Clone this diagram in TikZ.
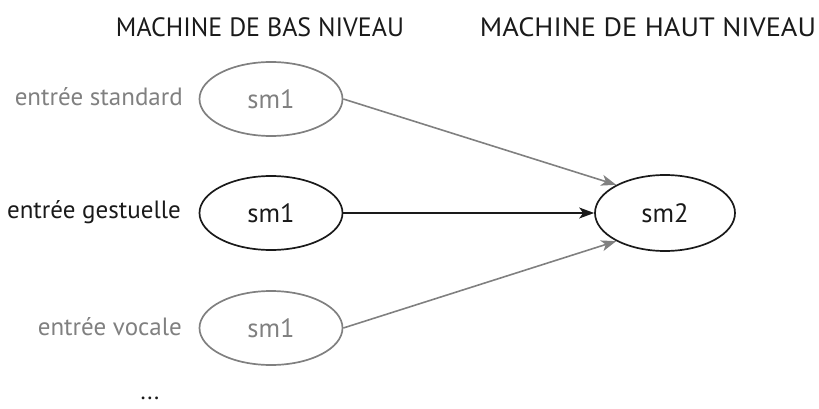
\documentclass[tikz,border=0pt]{standalone}
\usepackage{fontspec}
\usepackage{graphicx}
\setmainfont{PT Sans}
\usetikzlibrary{shapes.geometric,arrows.meta}
\definecolor{gr}{HTML}{808080}
\definecolor{bk}{HTML}{1A1A1A}
\tikzset{
  sm/.style={ellipse, draw, line width=1.7pt, minimum width=143pt, minimum height=74pt, inner sep=0pt, font=\fontsize{26.5}{30}\selectfont},
  lab/.style={anchor=east, font=\fontsize{25}{30}\selectfont, inner sep=0pt},
  hdr/.style={font=\fontsize{26.5}{30}\selectfont, inner sep=0pt},
  con/.style={line width=1.6pt, -{Stealth[length=15pt,width=11pt,inset=4pt]}}
}
\begin{document}
\begin{tikzpicture}[x=1pt,y=-1pt]
\useasboundingbox (0,0) rectangle (819,409);
\node[hdr, text=bk] (h1) at (260,27) {\scalebox{0.98}[1]{MACHINE DE BAS NIVEAU}};
\node[hdr, text=bk] (h2) at (648,27) {\scalebox{1.07}[1]{MACHINE DE HAUT NIVEAU}};
\node[sm, draw=gr, text=gr] (a) at (271,99) {sm1};
\node[sm, draw=bk, text=bk] (b) at (271,213) {sm1};
\node[sm, draw=gr, text=gr] (c) at (271,328) {sm1};
\node[sm, draw=bk, text=bk, minimum width=140pt, minimum height=76pt] (d) at (665,213) {sm2};
\node[lab, text=gr] (la) at (183,97) {entrée standard};
\node[lab, text=bk] (lb) at (181,212) {entrée gestuelle};
\node[lab, text=gr] (lc) at (182,327) {entrée vocale};
\node[font=\fontsize{24}{28}\selectfont, text=bk, inner sep=0pt] (dots) at (150,398) {...};
\draw[con, gr] (a.east) -- (d.150);
\draw[con, bk] (b.east) -- (d.west);
\draw[con, gr] (c.east) -- (d.210);
\end{tikzpicture}
\end{document}
